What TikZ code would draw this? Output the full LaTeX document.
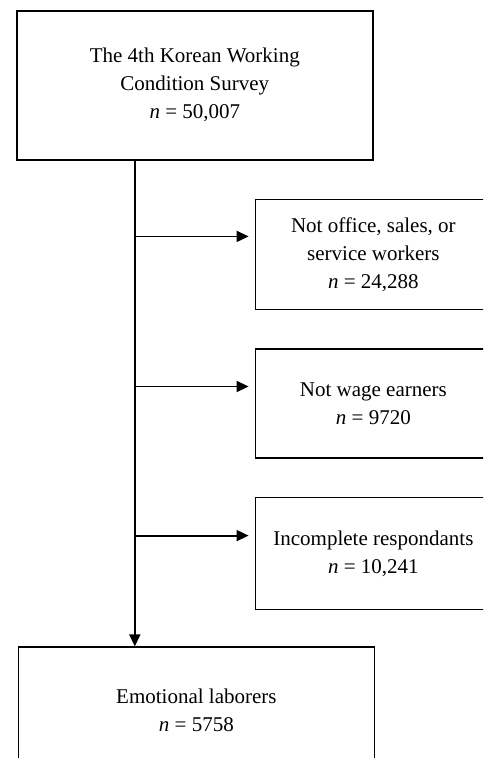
\documentclass[tikz,border=0pt]{standalone}
\usepackage{fontspec}
\setmainfont{Liberation Serif}
\usetikzlibrary{arrows.meta,positioning}

\begin{document}
\begin{tikzpicture}[x=1pt, y=-1pt, font=\fontsize{21}{28}\selectfont, node distance=38pt]
    \tikzstyle{stage}=[draw, line width=1.6pt, align=center, inner sep=6pt, anchor=north west]
    \tikzstyle{excl}=[stage, minimum width=236pt]
    \tikzstyle{arrow}=[-{Triangle[length=12pt,width=11pt]}, line width=1.8pt]

    \clip (0,0) rectangle (483,758);

    \node[stage, minimum width=356pt, minimum height=149pt] (survey) at (16,10)
      {The 4th Korean Working\\ Condition Survey\\ \textit{n} = 50,007};

    \node[excl, minimum height=110pt, below=of survey.south east, anchor=north west, xshift=-119pt] (office)
      {Not office, sales, or\\ service workers\\ \textit{n} = 24,288};

    \node[excl, minimum height=109pt, below=of office] (wage)
      {Not wage earners\\ \textit{n} = 9720};

    \node[excl, minimum height=112pt, below=of wage] (resp)
      {Incomplete respondants\\ \textit{n} = 10,241};

    \node[stage, minimum width=356pt, minimum height=126pt, below=36pt of resp.south west, anchor=north west, xshift=-237pt] (labor)
      {Emotional laborers\\ \textit{n} = 5758};

    \coordinate (spine) at ([xshift=-60pt]survey.south);

    \draw[arrow] (spine) -- (spine |- labor.north);
    \draw[arrow, shorten >=6pt, transform canvas={yshift=18pt}] (spine |- office.west) -- (office.west);
    \draw[arrow, shorten >=6pt, transform canvas={yshift=17pt}] (spine |- wage.west) -- (wage.west);
    \draw[arrow, shorten >=6pt, transform canvas={yshift=18pt}] (spine |- resp.west) -- (resp.west);
\end{tikzpicture}
\end{document}
